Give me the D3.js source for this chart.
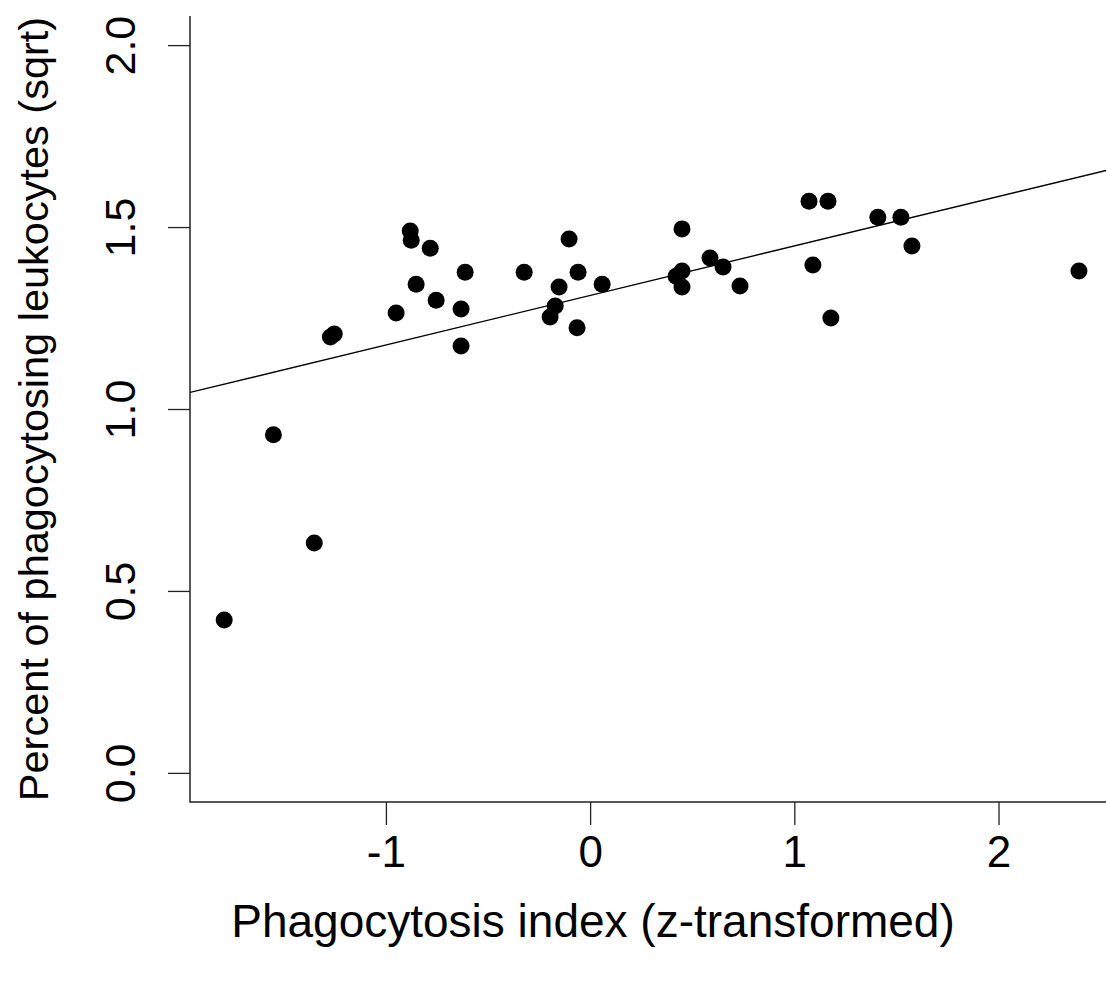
<!DOCTYPE html>
<meta charset="utf-8">
<head>
    <script src="https://d3js.org/d3.v7.min.js"></script>
    <style>
        body { margin: 0; background: #fff; }
        text { font-family: "Liberation Sans", Arial, Helvetica, sans-serif; fill: #000; }
    </style>
</head>
<body>
<div id="graph"></div>
<script>
    // data
    var phagoIndex = [-1.792, -1.551, -1.351, -1.272, -1.253, -0.950, -0.881, -0.876, -0.852, -0.783,
                      -0.754, -0.632, -0.632, -0.612, -0.323, -0.196, -0.171, -0.152, -0.103, -0.064,
                      -0.059, 0.059, 0.421, 0.450, 0.450, 0.450, 0.587, 0.651, 0.734, 1.072,
                      1.091, 1.165, 1.179, 1.409, 1.522, 1.576, 2.394];
    var percentSqrt = [0.420, 0.929, 0.632, 1.198, 1.206, 1.264, 1.489, 1.464, 1.343, 1.442,
                       1.299, 1.275, 1.173, 1.376, 1.376, 1.253, 1.283, 1.335, 1.467, 1.223,
                       1.376, 1.343, 1.365, 1.495, 1.379, 1.335, 1.415, 1.390, 1.338, 1.571,
                       1.396, 1.571, 1.250, 1.527, 1.527, 1.448, 1.379];
    var xTicks = [-1, 0, 1, 2];
    var yTicks = [0, 0.5, 1, 1.5, 2];
    var yTickLabels = ["0.0", "0.5", "1.0", "1.5", "2.0"];
    // fitted line
    var lineIntercept = 1.312;
    var lineSlope = 0.136;

    var width = 1106, height = 986;
    var plot = {left: 190, top: 16, bottom: 802};

    var svg = d3.select("#graph")
      .append("svg")
        .attr("width", width)
        .attr("height", height);

    // R style 4% padding on x
    var xmin = d3.min(phagoIndex), xmax = d3.max(phagoIndex);
    var pad = (xmax - xmin) * 0.04;
    var x = d3.scaleLinear()
        .domain([xmin - pad, xmax + pad])
        .range([plot.left, plot.left + 204.2 * (xmax - xmin + 2 * pad)]);
    var y = d3.scaleLinear()
        .domain([-0.08, 2.08])
        .range([plot.bottom, plot.top]);

    svg.append("clipPath").attr("id", "clip")
      .append("rect")
        .attr("x", x.range()[0]).attr("y", plot.top)
        .attr("width", x.range()[1] - x.range()[0])
        .attr("height", plot.bottom - plot.top);

    // x axis
    var gx = svg.append("g")
        .attr("transform", "translate(0," + plot.bottom + ")")
        .call(d3.axisBottom(x).tickValues(xTicks).tickSize(23).tickPadding(10)
            .tickFormat(function (d) { return String(d); }));
    gx.select(".domain").remove();
    gx.selectAll(".tick line").attr("stroke", "#222").attr("stroke-width", 1.3);
    gx.selectAll(".tick text")
        .attr("y", 65).attr("dy", null)
        .style("font-size", "44px").attr("fill", "#000");

    // y axis, labels rotated like R
    var gy = svg.append("g")
        .attr("transform", "translate(" + plot.left + ",0)")
        .call(d3.axisLeft(y).tickValues(yTicks).tickSize(22)
            .tickFormat(function (d, i) { return yTickLabels[i]; }));
    gy.select(".domain").remove();
    gy.selectAll(".tick line").attr("stroke", "#222").attr("stroke-width", 1.3);
    gy.selectAll(".tick text")
        .attr("x", 0).attr("y", 0).attr("dy", null)
        .attr("text-anchor", "middle")
        .attr("transform", "translate(-55,0) rotate(-90)")
        .style("font-size", "43px").attr("fill", "#000");

    // L shaped box
    svg.append("path")
        .attr("d", "M" + plot.left + "," + plot.top + "V" + plot.bottom + "H" + x.range()[1])
        .attr("fill", "none")
        .attr("stroke", "#222")
        .attr("stroke-width", 1.5);

    // regression line
    var xd = x.domain();
    svg.append("line")
        .attr("clip-path", "url(#clip)")
        .attr("x1", x(xd[0])).attr("y1", y(lineIntercept + lineSlope * xd[0]))
        .attr("x2", x(xd[1])).attr("y2", y(lineIntercept + lineSlope * xd[1]))
        .attr("stroke", "#000")
        .attr("stroke-width", 1.4);

    // points
    svg.append("g")
        .selectAll("circle")
        .data(phagoIndex)
        .enter()
        .append("circle")
        .attr("cx", function (d) { return x(d); })
        .attr("cy", function (d, i) { return y(percentSqrt[i]); })
        .attr("r", 8.5)
        .style("fill", "#000");

    // axis titles
    svg.append("text")
        .attr("x", 593)
        .attr("y", 937)
        .attr("text-anchor", "middle")
        .style("font-size", "46px")
        .text("Phagocytosis index (z-transformed)");

    svg.append("text")
        .attr("transform", "translate(48," + y(1) + ") rotate(-90)")
        .attr("text-anchor", "middle")
        .style("font-size", "41.5px")
        .text("Percent of phagocytosing leukocytes (sqrt)");
</script>
</body>
